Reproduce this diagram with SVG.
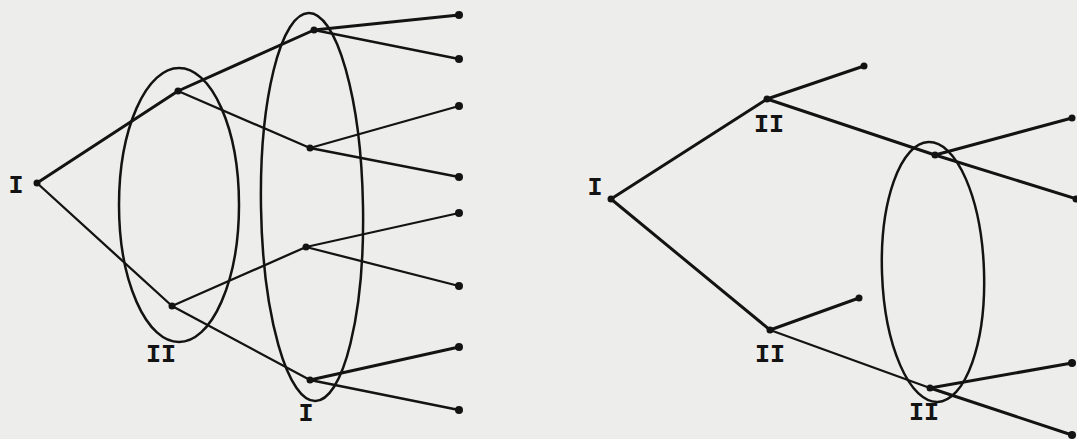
<svg xmlns="http://www.w3.org/2000/svg" width="1077" height="439" viewBox="0 0 1077 439">
<style>
.e{stroke:#131313;stroke-width:2.3;fill:none;stroke-linecap:round}
.t{stroke-width:3}
.d{fill:#131313}
.s{stroke:#131313;stroke-width:2.5;fill:none}
.l{font-family:"Liberation Mono","Courier New",monospace;font-weight:bold;font-size:25px;fill:#131313;text-anchor:middle}
</style>
<rect width="1077" height="439" fill="#ededeb"/>
<g id="connectors">
<line class="e t" x1="37" y1="183" x2="178" y2="91"/>
<line class="e" x1="37" y1="183" x2="172" y2="306"/>
<line class="e t" x1="178" y1="91" x2="314" y2="30"/>
<line class="e" x1="178" y1="91" x2="310" y2="148"/>
<line class="e" x1="172" y1="306" x2="306" y2="247"/>
<line class="e" x1="172" y1="306" x2="310" y2="380"/>
<line class="e t" x1="314" y1="30" x2="459" y2="15"/>
<line class="e" x1="314" y1="30" x2="459" y2="59"/>
<line class="e" x1="310" y1="148" x2="459" y2="106"/>
<line class="e" x1="310" y1="148" x2="459" y2="177"/>
<line class="e" x1="306" y1="247" x2="459" y2="213"/>
<line class="e" x1="306" y1="247" x2="459" y2="286"/>
<line class="e t" x1="310" y1="380" x2="459" y2="347"/>
<line class="e" x1="310" y1="380" x2="459" y2="410"/>
<line class="e t" x1="611" y1="199" x2="767" y2="99"/>
<line class="e t" x1="611" y1="199" x2="770" y2="330"/>
<line class="e t" x1="767" y1="99" x2="864" y2="66"/>
<line class="e t" x1="767" y1="99" x2="935" y2="155"/>
<line class="e t" x1="770" y1="330" x2="859" y2="298"/>
<line class="e" x1="770" y1="330" x2="930" y2="388"/>
<line class="e t" x1="935" y1="155" x2="1072" y2="118"/>
<line class="e t" x1="935" y1="155" x2="1077" y2="199"/>
<line class="e t" x1="930" y1="388" x2="1072" y2="363"/>
<line class="e t" x1="930" y1="388" x2="1072" y2="435"/>
</g>
<g id="info-sets">
<ellipse id="set-left-II" class="s" cx="179" cy="205" rx="60" ry="137"/>
<ellipse id="set-left-I" class="s" cx="312" cy="207" rx="51" ry="194" transform="rotate(-1 312 207)"/>
<ellipse id="set-right-II" class="s" cx="933" cy="272" rx="51" ry="130" transform="rotate(-2 933 272)"/>
</g>
<g id="left-root"><circle class="d" cx="37" cy="183" r="3.5"/><text class="l" x="16" y="193">I</text></g>
<g id="left-A"><circle class="d" cx="178" cy="91" r="3.5"/></g>
<g id="left-B"><circle class="d" cx="172" cy="306" r="3.5"/><text class="l" x="161" y="362">II</text></g>
<g id="left-C"><circle class="d" cx="314" cy="30" r="3.5"/></g>
<g id="left-D"><circle class="d" cx="310" cy="148" r="3.5"/></g>
<g id="left-E"><circle class="d" cx="306" cy="247" r="3.5"/></g>
<g id="left-F"><circle class="d" cx="310" cy="380" r="3.5"/><text class="l" x="306" y="421">I</text></g>
<g id="left-terminals">
<circle class="d" cx="459" cy="15" r="4"/>
<circle class="d" cx="459" cy="59" r="4"/>
<circle class="d" cx="459" cy="106" r="4"/>
<circle class="d" cx="459" cy="177" r="4"/>
<circle class="d" cx="459" cy="213" r="4"/>
<circle class="d" cx="459" cy="286" r="4"/>
<circle class="d" cx="459" cy="347" r="4"/>
<circle class="d" cx="459" cy="410" r="4"/>
</g>
<g id="right-root"><circle class="d" cx="611" cy="199" r="3.5"/><text class="l" x="595" y="195">I</text></g>
<g id="right-upper-II"><circle class="d" cx="767" cy="99" r="3.5"/><text class="l" x="769" y="132">II</text></g>
<g id="right-lower-II"><circle class="d" cx="770" cy="330" r="3.5"/><text class="l" x="770" y="362">II</text></g>
<g id="right-info-upper"><circle class="d" cx="935" cy="155" r="3.5"/></g>
<g id="right-info-lower"><circle class="d" cx="930" cy="388" r="3.5"/><text class="l" x="924" y="420">II</text></g>
<g id="right-terminals">
<circle class="d" cx="864" cy="66" r="3.5"/>
<circle class="d" cx="859" cy="298" r="3.5"/>
<circle class="d" cx="1072" cy="118" r="3.5"/>
<circle class="d" cx="1076" cy="199" r="3.5"/>
<circle class="d" cx="1072" cy="363" r="4"/>
<circle class="d" cx="1072" cy="435" r="4"/>
</g>
</svg>
